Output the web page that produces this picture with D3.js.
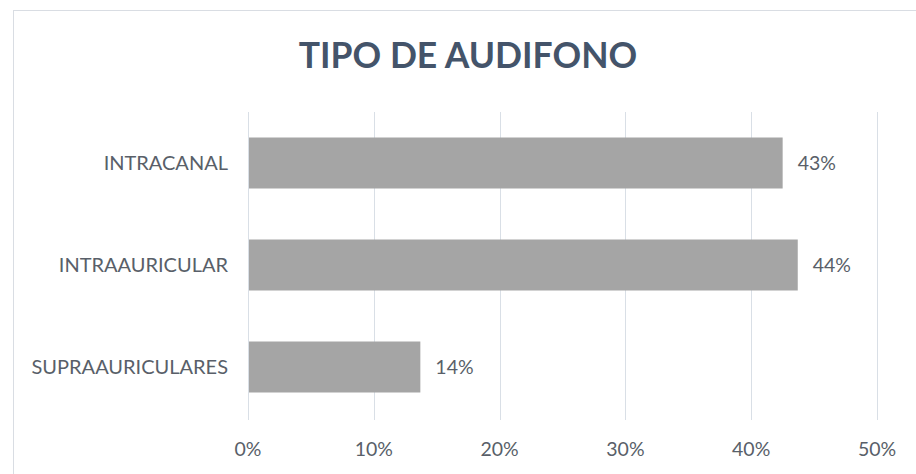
<!DOCTYPE html>
<html lang="es">
<head>
  <meta charset="UTF-8">
  <title>Tipo de audifono</title>
  <script src="https://d3js.org/d3.v7.min.js"></script>
  <style>
    body { margin: 0; background: #fff; font-family: Lato, "Liberation Sans", sans-serif; }
    .title { font-size: 35.5px; font-weight: bold; fill: #44546a; text-anchor: middle; }
    .cat { font-size: 20px; fill: #595f69; }
    .tick-lbl { font-size: 19.5px; fill: #595f69; text-anchor: middle; }
    .val { font-size: 19.5px; fill: #595f69; }
  </style>
</head>
<body>
  <svg width="916" height="474"></svg>
  <script>
    const categories = ["INTRACANAL", "INTRAAURICULAR", "SUPRAAURICULARES"];
    const values = [42.5, 43.7, 13.7];
    const valueLabels = ["43%", "44%", "14%"];
    const ticks = [0, 10, 20, 30, 40, 50];

    const svg = d3.select("svg");
    const margin = { top: 112, right: 39, bottom: 56, left: 248 };
    const width = 916 - margin.left - margin.right;
    const height = 474 - margin.top - margin.bottom;

    // marco del gráfico
    svg.append("rect")
      .attr("x", 13.5).attr("y", 10.5)
      .attr("width", 920).attr("height", 480)
      .attr("fill", "none").attr("stroke", "#d9dde3");

    svg.append("text").attr("class", "title")
      .attr("x", 468).attr("y", 68)
      .text("TIPO DE AUDIFONO");

    const g = svg.append("g").attr("transform", `translate(${margin.left},${margin.top})`);

    const x = d3.scaleLinear().domain([0, 50]).range([0, width]);
    const y = d3.scaleBand().domain(categories).range([0, height]).paddingInner(0.5).paddingOuter(0.25);

    // líneas de cuadrícula
    g.selectAll(".grid")
      .data(ticks)
      .join("line")
      .attr("x1", d => Math.round(x(d)) + 0.5)
      .attr("x2", d => Math.round(x(d)) + 0.5)
      .attr("y1", 0).attr("y2", height + 2)
      .attr("stroke", "#d9dfe6");

    g.selectAll(".bar")
      .data(values)
      .join("rect")
      .attr("x", x(0) + 1)
      .attr("y", (d, i) => y(categories[i]))
      .attr("width", d => x(d) - 1)
      .attr("height", y.bandwidth())
      .attr("fill", "#a5a5a5");

    g.selectAll(".cat")
      .data(categories)
      .join("text")
      .attr("class", "cat")
      .attr("x", -20)
      .attr("y", d => y(d) + y.bandwidth() / 2)
      .attr("dy", "0.35em")
      .attr("text-anchor", "end")
      .text(d => d);

    g.selectAll(".val")
      .data(values)
      .join("text")
      .attr("class", "val")
      .attr("x", d => x(d) + 15)
      .attr("y", (d, i) => y(categories[i]) + y.bandwidth() / 2)
      .attr("dy", "0.35em")
      .text((d, i) => valueLabels[i]);

    g.selectAll(".tick-lbl")
      .data(ticks)
      .join("text")
      .attr("class", "tick-lbl")
      .attr("x", d => x(d))
      .attr("y", height + 31)
      .attr("dy", "0.35em")
      .text(d => d + "%");
  </script>
</body>
</html>
